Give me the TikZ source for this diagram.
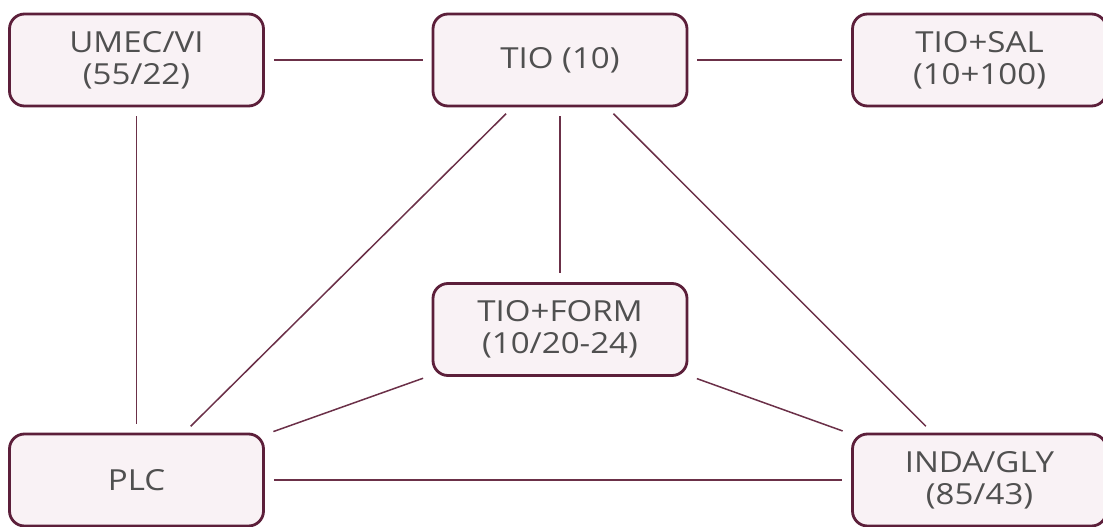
\documentclass[tikz,border=0pt]{standalone}
\usepackage{fontspec}
\setmainfont{Open Sans}[FakeStretch=1.14]
\definecolor{boxborder}{HTML}{5C1F3A}
\definecolor{boxfill}{HTML}{F9F2F5}
\definecolor{linkcol}{HTML}{6B3048}
\definecolor{txt}{HTML}{505050}
\begin{document}
\begin{tikzpicture}[x=1pt,y=-1pt,
  drug/.style={draw=boxborder, line width=2.8pt, fill=boxfill, rounded corners=15pt,
    minimum width=254pt, minimum height=92pt, align=center, text=txt, inner sep=0pt,
    font=\fontsize{29}{32}\selectfont},
  link/.style={draw=linkcol, line width=1.5pt, shorten <=9pt, shorten >=9pt}]
\useasboundingbox (0,0) rectangle (1103,527);
\node[drug] (umec) at (136.5,60) {UMEC/VI\\(55/22)};
\node[drug] (tio) at (560,60) {TIO (10)};
\node[drug] (sal) at (979.5,60) {TIO+SAL\\(10+100)};
\node[drug] (form) at (560,329.5) {TIO+FORM\\(10/20-24)};
\node[drug] (plc) at (136.5,480) {PLC};
\node[drug] (inda) at (979.5,480) {INDA/GLY\\(85/43)};
\draw[link] (umec) -- (tio);
\draw[link] (tio) -- (sal);
\draw[link] (umec) -- (plc);
\draw[link] (tio) -- (plc);
\draw[link] (tio) -- (form);
\draw[link] (tio) -- (inda);
\draw[link] (form) -- (plc);
\draw[link] (form) -- (inda);
\draw[link] (plc) -- (inda);
\end{tikzpicture}
\end{document}
